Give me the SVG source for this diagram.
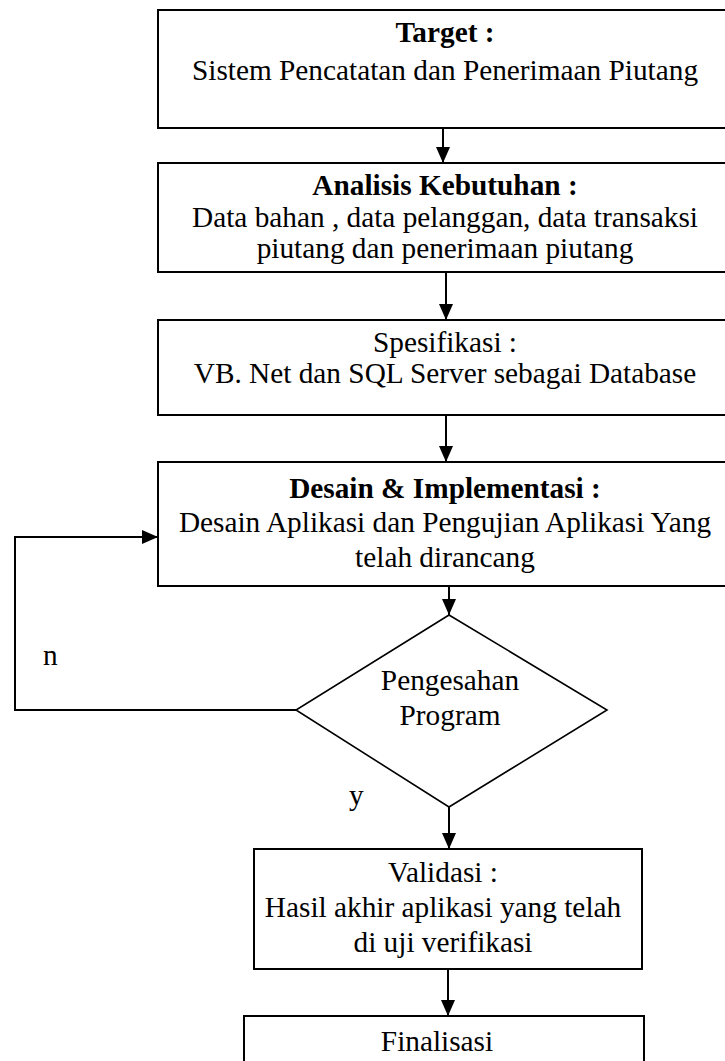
<svg xmlns="http://www.w3.org/2000/svg" width="725" height="1061" viewBox="0 0 725 1061">
<style>
.box{fill:#fff;stroke:#000;stroke-width:2}
.dia{fill:#fff;stroke:#000;stroke-width:1.6}
.t{font-family:"Liberation Serif","Times New Roman",serif;font-size:29.3px;fill:#000;text-anchor:middle}
.b{font-weight:bold}
.l{font-family:"Liberation Serif","Times New Roman",serif;font-size:29.3px;fill:#000}
.c{fill:none;stroke:#000;stroke-width:2}
</style>
<defs>
<marker id="ah" markerUnits="userSpaceOnUse" markerWidth="16" markerHeight="14" refX="16" refY="7" orient="auto">
<path d="M0,0 L16,7 L0,14 z" fill="#000"/>
</marker>
</defs>
<rect width="725" height="1061" fill="#fff"/>
<g id="connectors">
<line class="c" x1="443" y1="128" x2="443" y2="163" marker-end="url(#ah)"/>
<line class="c" x1="446" y1="272" x2="446" y2="320" marker-end="url(#ah)"/>
<line class="c" x1="446" y1="415" x2="446" y2="462" marker-end="url(#ah)"/>
<line class="c" x1="449" y1="586" x2="449" y2="615" marker-end="url(#ah)"/>
<line class="c" x1="449" y1="807" x2="449" y2="849" marker-end="url(#ah)"/>
<line class="c" x1="448" y1="969" x2="448" y2="1016" marker-end="url(#ah)"/>
<polyline class="c" points="296,710 15,710 15,537 158,537" marker-end="url(#ah)"/>
</g>
<g id="target">
<rect class="box" x="158" y="10" width="580" height="118"/>
<text class="t b" x="445" y="42">Target :</text>
<text class="t" x="445" y="80">Sistem Pencatatan dan Penerimaan Piutang</text>
</g>
<g id="analisis">
<rect class="box" x="158" y="163" width="580" height="109"/>
<text class="t b" x="445" y="195">Analisis Kebutuhan :</text>
<text class="t" x="445" y="227">Data bahan , data pelanggan, data transaksi</text>
<text class="t" x="445" y="258">piutang dan penerimaan piutang</text>
</g>
<g id="spesifikasi">
<rect class="box" x="158" y="320" width="580" height="95"/>
<text class="t" x="445" y="352">Spesifikasi :</text>
<text class="t" x="445" y="383">VB. Net dan SQL Server sebagai Database</text>
</g>
<g id="desain">
<rect class="box" x="158" y="462" width="580" height="124"/>
<text class="t b" x="445" y="498">Desain &amp; Implementasi :</text>
<text class="t" x="445" y="532">Desain Aplikasi dan Pengujian Aplikasi Yang</text>
<text class="t" x="445" y="567">telah dirancang</text>
</g>
<g id="pengesahan">
<polygon class="dia" points="449,615 607,710 449,807 296,710"/>
<text class="t" x="450" y="690">Pengesahan</text>
<text class="t" x="450" y="725">Program</text>
</g>
<g id="labels">
<text class="l" x="43" y="665">n</text>
<text class="l" x="349" y="805">y</text>
</g>
<g id="validasi">
<rect class="box" x="254" y="849" width="388" height="120"/>
<text class="t" x="443" y="882">Validasi :</text>
<text class="t" x="443" y="917">Hasil akhir aplikasi yang telah</text>
<text class="t" x="443" y="952">di uji verifikasi</text>
</g>
<g id="finalisasi">
<rect class="box" x="244" y="1016" width="400" height="70"/>
<text class="t" x="437" y="1051">Finalisasi</text>
</g>
</svg>
